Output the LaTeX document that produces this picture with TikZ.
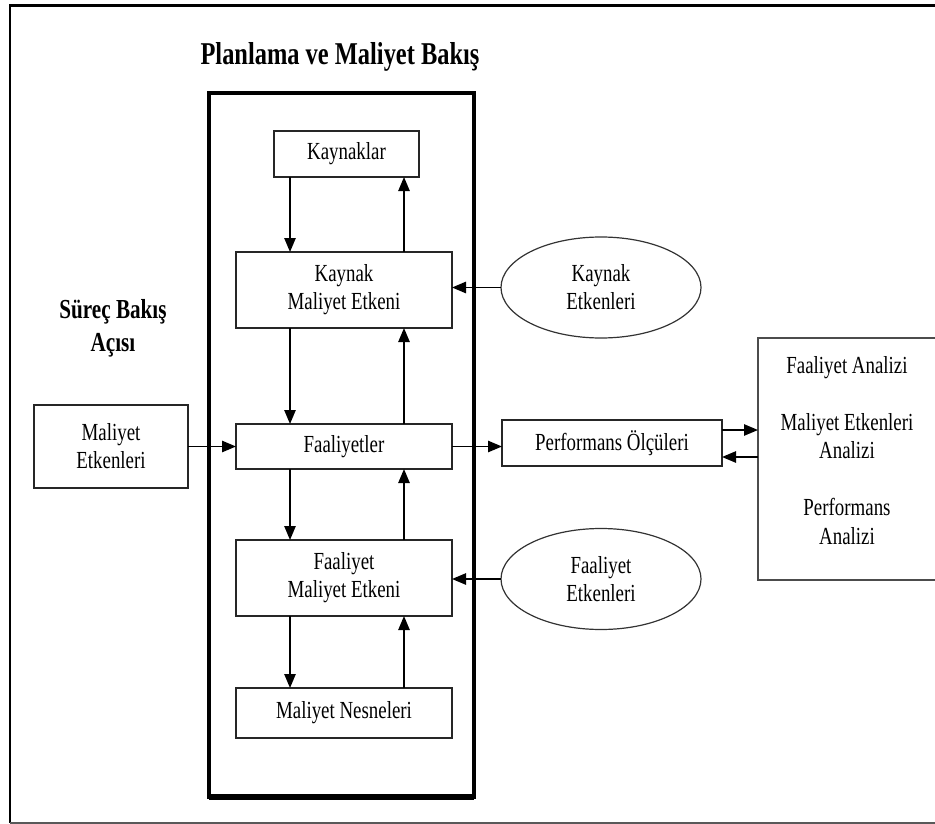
\documentclass[tikz,border=0pt]{standalone}
\usepackage{fontspec}
\setmainfont[FakeStretch=0.77]{Liberation Serif}
\usetikzlibrary{arrows.meta,shapes.geometric}

\tikzset{
  txt/.style={font=\fontsize{18.4}{21}\selectfont, align=center},
  boxnode/.style={txt, draw=black!85, line width=1pt, inner sep=0pt, outer sep=0pt, fill=white},
  ovalnode/.style={txt, ellipse, draw=black!80, line width=0.9pt, inner sep=0pt, outer sep=0pt,
    minimum width=150pt, minimum height=75.75pt},
  arr/.style={line width=1.2pt, -{Triangle[length=10.5pt,width=8.5pt]}},
  headline/.style={font=\fontsize{23.8}{27}\selectfont\bfseries},
  sidehead/.style={font=\fontsize{20.6}{24.75}\selectfont\bfseries, align=center},
}

\begin{document}
\begin{tikzpicture}[x=0.75pt, y=-0.75pt]
  \useasboundingbox (0,0) rectangle (935,824);

  % outer frame (open towards the right)
  \draw[line width=2.25pt, black] (9,5.5) -- (945,5.5);
  \draw[line width=1.9pt, black] (10,5) -- (10,823);
  \draw[line width=1.2pt, black!65] (10,823) -- (945,823);

  % planning and cost view
  \node[headline] (title) at (340,57) {Planlama ve Maliyet Bakış};
  \draw[line width=3pt, black] (209,93) rectangle (474,797);
  \draw[line width=4pt, black] (209,797) -- (474,797);

  \node[boxnode, minimum width=108.75pt, minimum height=34.5pt] (kay) at (346.5,154) {Kaynaklar};
  \node[boxnode, minimum width=162pt, minimum height=57pt] (kme) at (344,290) {Kaynak\\Maliyet Etkeni};
  \node[boxnode, minimum width=162pt, minimum height=33.75pt] (fa) at (344,446.5) {Faaliyetler};
  \node[boxnode, minimum width=162pt, minimum height=57pt] (fme) at (344,578) {Faaliyet\\Maliyet Etkeni};
  \node[boxnode, minimum width=162pt, minimum height=37.5pt] (mn) at (344,713) {Maliyet Nesneleri};

  % process view
  \node[sidehead] (surec) at (113,328) {Süreç Bakış\\Açısı};
  \node[boxnode, minimum width=115.5pt, minimum height=62.25pt] (me) at (111,446.5) {Maliyet\\Etkenleri};

  % drivers
  \node[ovalnode] (ke) at (601,287.5) {Kaynak\\Etkenleri};
  \node[ovalnode] (fe) at (601,579) {Faaliyet\\Etkenleri};

  % performance side
  \node[boxnode, minimum width=165pt, minimum height=34.5pt] (po) at (612,443) {Performans Ölçüleri};
  \node[draw=black!70, line width=1pt, inner sep=0pt, outer sep=0pt,
        minimum width=136.5pt, minimum height=181.5pt] (analiz) at (849,459) {};
  \node[txt, font=\fontsize{18.4}{21.4}\selectfont] (analiztxt) at (847,450.5)
    {Faaliyet Analizi\\[0pt] \\Maliyet Etkenleri\\Analizi\\ \\Performans\\Analizi};

  % vertical flows: down on the left, up on the right
  \foreach \a/\b in {kay/kme, kme/fa, fa/fme, fme/mn}{
    \draw[arr] (\a.south -| 290,0) -- (\b.north -| 290,0);
    \draw[arr] (\b.north -| 404,0) -- (\a.south -| 404,0);
  }

  % horizontal flows
  \draw[arr] (me.east) -- (me.east -| fa.west);
  \draw[arr] (fa.east) -- (fa.east -| po.west);
  \draw[arr] (ke.west) -- (ke.west -| kme.east);
  \draw[arr] (fe.west) -- (fe.west -| fme.east);

  \coordinate (pu) at (722,430);
  \coordinate (pl) at (758,457);
  \draw[arr] (pu) -- (pu -| analiz.west);
  \draw[arr] (pl) -- (pl -| po.east);
\end{tikzpicture}
\end{document}
